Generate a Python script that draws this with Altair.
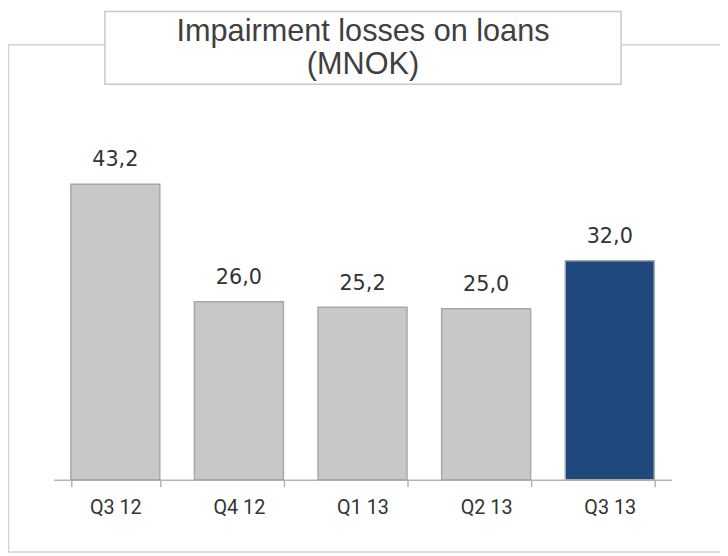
import altair as alt
import pandas as pd

quarters = ["Q3 12", "Q4 12", "Q1 13", "Q2 13", "Q3 13"]
values = [43.2, 26.0, 25.2, 25.0, 32.0]
groups = ["past", "past", "past", "past", "current"]
title_lines = ["Impairment losses on loans", "(MNOK)"]

df = pd.DataFrame({
    "quarter": quarters,
    "value": values,
    "group": groups,
    "label": [f"{v:.1f}".replace(".", ",") for v in values],
})
one = pd.DataFrame({"k": [0]})

W, H = 625, 346

x = alt.X(
    "quarter:N",
    sort=quarters,
    scale=alt.Scale(paddingInner=0.28, paddingOuter=0.14),
    axis=alt.Axis(
        title=None, labelAngle=0, tickBand="extent", grid=False,
        domainColor="#b4b4b4", domainWidth=1.5,
        tickColor="#b4b4b4", tickWidth=1.5, tickSize=7,
        labelPadding=27, labelBaseline="alphabetic",
        labelFont="Roboto", labelFontSize=20, labelColor="#333333",
    ),
)
y = alt.Y("value:Q", scale=alt.Scale(domain=[0, 50]), axis=None)

border = alt.Chart(one).mark_rect(fill="transparent", stroke="#d2d2d2", strokeWidth=1.5).encode(
    x=alt.value(-45.5), x2=alt.value(700), y=alt.value(-94), y2=alt.value(419)
)
title_box = alt.Chart(one).mark_rect(fill="white", stroke="#c8c8c8", strokeWidth=1.5).encode(
    x=alt.value(52), x2=alt.value(574), y=alt.value(-127.5), y2=alt.value(-54)
)
title_text = alt.Chart(one).mark_text(
    align="center", baseline="alphabetic", lineHeight=34,
    font="Liberation Sans", fontSize=31, color="#404040",
).encode(x=alt.value(313), y=alt.value(-98), text=alt.value(title_lines))

bars = alt.Chart(df).mark_bar(stroke="#a8a8a8", strokeWidth=1.5).encode(
    x=x, y=y,
    color=alt.Color("group:N", scale=alt.Scale(domain=["past", "current"], range=["#c8c8c8", "#1f497d"]), legend=None),
)
labels = alt.Chart(df).mark_text(
    dy=-18, baseline="alphabetic", font="DejaVu Sans", fontSize=21, color="#333333"
).encode(x=x, y=y, text="label:N")

chart = alt.layer(border, title_box, title_text, bars, labels).properties(
    width=W, height=H,
    autosize=alt.AutoSizeParams(type="none"),
    padding={"left": 46, "top": 128, "right": 49, "bottom": 74},
).configure_view(stroke=None)

chart.save("out.html", embed_options={"renderer": "svg", "actions": False})
